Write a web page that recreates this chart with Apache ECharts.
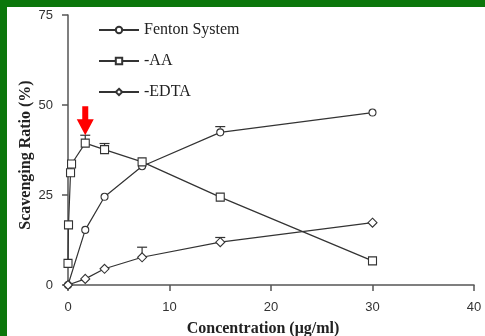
<!DOCTYPE html>
<html>
<head>
<meta charset="utf-8">
<script src="https://cdn.jsdelivr.net/npm/echarts@6/dist/echarts.min.js"></script>
<style>
  html, body { margin: 0; padding: 0; background: #fff; }
  #chart { width: 485px; height: 336px; }
</style>
</head>
<body>
<div id="chart"></div>
<script>
// Scavenging ratio (%) versus concentration (µg/ml)
const seriesNames = ['Fenton System', '-AA', '-EDTA'];

const fentonX = [0, 1.7, 3.6, 7.3, 15, 30];
const fentonY = [0, 15.3, 24.5, 33.0, 42.4, 47.9];
const fentonErrTop = [null, null, null, null, 44.0, null];

const aaX = [0, 0.05, 0.25, 0.35, 1.7, 3.6, 7.3, 15, 30];
const aaY = [6.0, 16.7, 31.2, 33.6, 39.4, 37.6, 34.2, 24.4, 6.7];
const aaErrTop = [null, null, null, null, 41.6, 39.3, null, null, null];

const edtaX = [0, 1.7, 3.6, 7.3, 15, 30];
const edtaY = [0, 1.7, 4.5, 7.7, 11.9, 17.3];
const edtaErrTop = [null, null, null, 10.5, 13.2, null];

const xTicks = [0, 10, 20, 30, 40];
const yTicks = [0, 25, 50, 75];

// highlighted peak of the -AA curve (arrow points at its error cap)
const peakIndex = 4;

const ink = '#333';
const diamond = 'path://M0,-1L1,0L0,1L-1,0Z';
const arrow = 'path://M5.5,0L11.5,0L11.5,13L17,13L8.5,29L0,13L5.5,13Z';

function pairs(xs, ys) { return xs.map((x, i) => [x, ys[i]]); }
function errPairs(xs, ys, tops) {
  const out = [];
  xs.forEach((x, i) => { if (tops[i] != null) out.push([x, ys[i], tops[i]]); });
  return out;
}

function lineSeries(name, xs, ys, symbol, size) {
  return {
    name: name,
    type: 'line',
    data: pairs(xs, ys),
    symbol: symbol,
    symbolSize: size,
    showAllSymbol: true,
    lineStyle: { color: ink, width: 1.2 },
    itemStyle: { color: '#fff', borderColor: ink, borderWidth: 1.1 },
    z: 3,
    animation: false
  };
}

function errorSeries(xs, ys, tops) {
  return {
    type: 'custom',
    data: errPairs(xs, ys, tops),
    z: 2,
    silent: true,
    animation: false,
    renderItem: function (params, api) {
      const p0 = api.coord([api.value(0), api.value(1)]);
      const p1 = api.coord([api.value(0), api.value(2)]);
      const st = { stroke: ink, lineWidth: 1.2 };
      return {
        type: 'group',
        children: [
          { type: 'line', shape: { x1: p0[0], y1: p0[1] - 4, x2: p1[0], y2: p1[1] }, style: st },
          { type: 'line', shape: { x1: p1[0] - 5, y1: p1[1], x2: p1[0] + 5, y2: p1[1] }, style: st }
        ]
      };
    }
  };
}

const aa = lineSeries(seriesNames[1], aaX, aaY, 'rect', 8);
aa.markPoint = {
  silent: true,
  symbol: arrow,
  symbolSize: [17, 29],
  symbolOffset: [0, '-50%'],
  itemStyle: { color: '#ff0000', borderWidth: 0 },
  label: { show: false },
  data: [{ coord: [aaX[peakIndex], aaErrTop[peakIndex]] }]
};

const chart = echarts.init(document.getElementById('chart'), null, { renderer: 'canvas' });
chart.setOption({
  backgroundColor: '#fff',
  animation: false,
  graphic: [
    { type: 'rect', left: 0, top: 0, shape: { width: 485, height: 7 }, style: { fill: '#0b770b' }, silent: true },
    { type: 'rect', left: 0, top: 0, shape: { width: 7, height: 336 }, style: { fill: '#0b770b' }, silent: true }
  ],
  grid: { left: 68, top: 15, right: 11, bottom: 51, containLabel: false, outerBoundsMode: 'none' },
  legend: {
    data: seriesNames,
    orient: 'vertical',
    left: 93,
    top: 17,
    itemWidth: 40,
    itemHeight: 8,
    itemGap: 15,
    selectedMode: false,
    textStyle: { fontFamily: '"Liberation Serif", "Times New Roman", serif', fontSize: 16, color: '#222' }
  },
  xAxis: {
    type: 'value',
    min: xTicks[0],
    max: xTicks[xTicks.length - 1],
    interval: xTicks[1] - xTicks[0],
    name: 'Concentration (μg/ml)',
    nameLocation: 'middle',
    nameGap: 36,
    nameMoveOverlap: false,
    nameTextStyle: {
      fontFamily: '"Liberation Serif", "Times New Roman", serif',
      fontWeight: 'bold', fontSize: 16, color: '#222', padding: [0, 16, 0, 0]
    },
    axisLine: { lineStyle: { color: '#555', width: 1.5 } },
    axisTick: { length: 6, lineStyle: { color: '#555', width: 1.5 } },
    axisLabel: { margin: 16, fontFamily: '"Liberation Sans", Arial, sans-serif', fontSize: 13, color: '#333' },
    splitLine: { show: false }
  },
  yAxis: {
    type: 'value',
    min: yTicks[0],
    max: yTicks[yTicks.length - 1],
    interval: yTicks[1] - yTicks[0],
    name: 'Scavenging Ratio (%)',
    nameLocation: 'middle',
    nameGap: 34,
    nameMoveOverlap: false,
    nameTextStyle: {
      fontFamily: '"Liberation Serif", "Times New Roman", serif',
      fontWeight: 'bold', fontSize: 16, color: '#222', padding: [0, 10, 0, 0]
    },
    axisLine: { show: true, lineStyle: { color: '#555', width: 1.5 } },
    axisTick: { show: true, length: 6, lineStyle: { color: '#555', width: 1.5 } },
    axisLabel: { margin: 15, fontFamily: '"Liberation Sans", Arial, sans-serif', fontSize: 13, color: '#333' },
    splitLine: { show: false }
  },
  series: [
    errorSeries(fentonX, fentonY, fentonErrTop),
    errorSeries(aaX, aaY, aaErrTop),
    errorSeries(edtaX, edtaY, edtaErrTop),
    lineSeries(seriesNames[0], fentonX, fentonY, 'circle', 7),
    aa,
    lineSeries(seriesNames[2], edtaX, edtaY, diamond, [9, 9])
  ]
});
</script>
</body>
</html>
